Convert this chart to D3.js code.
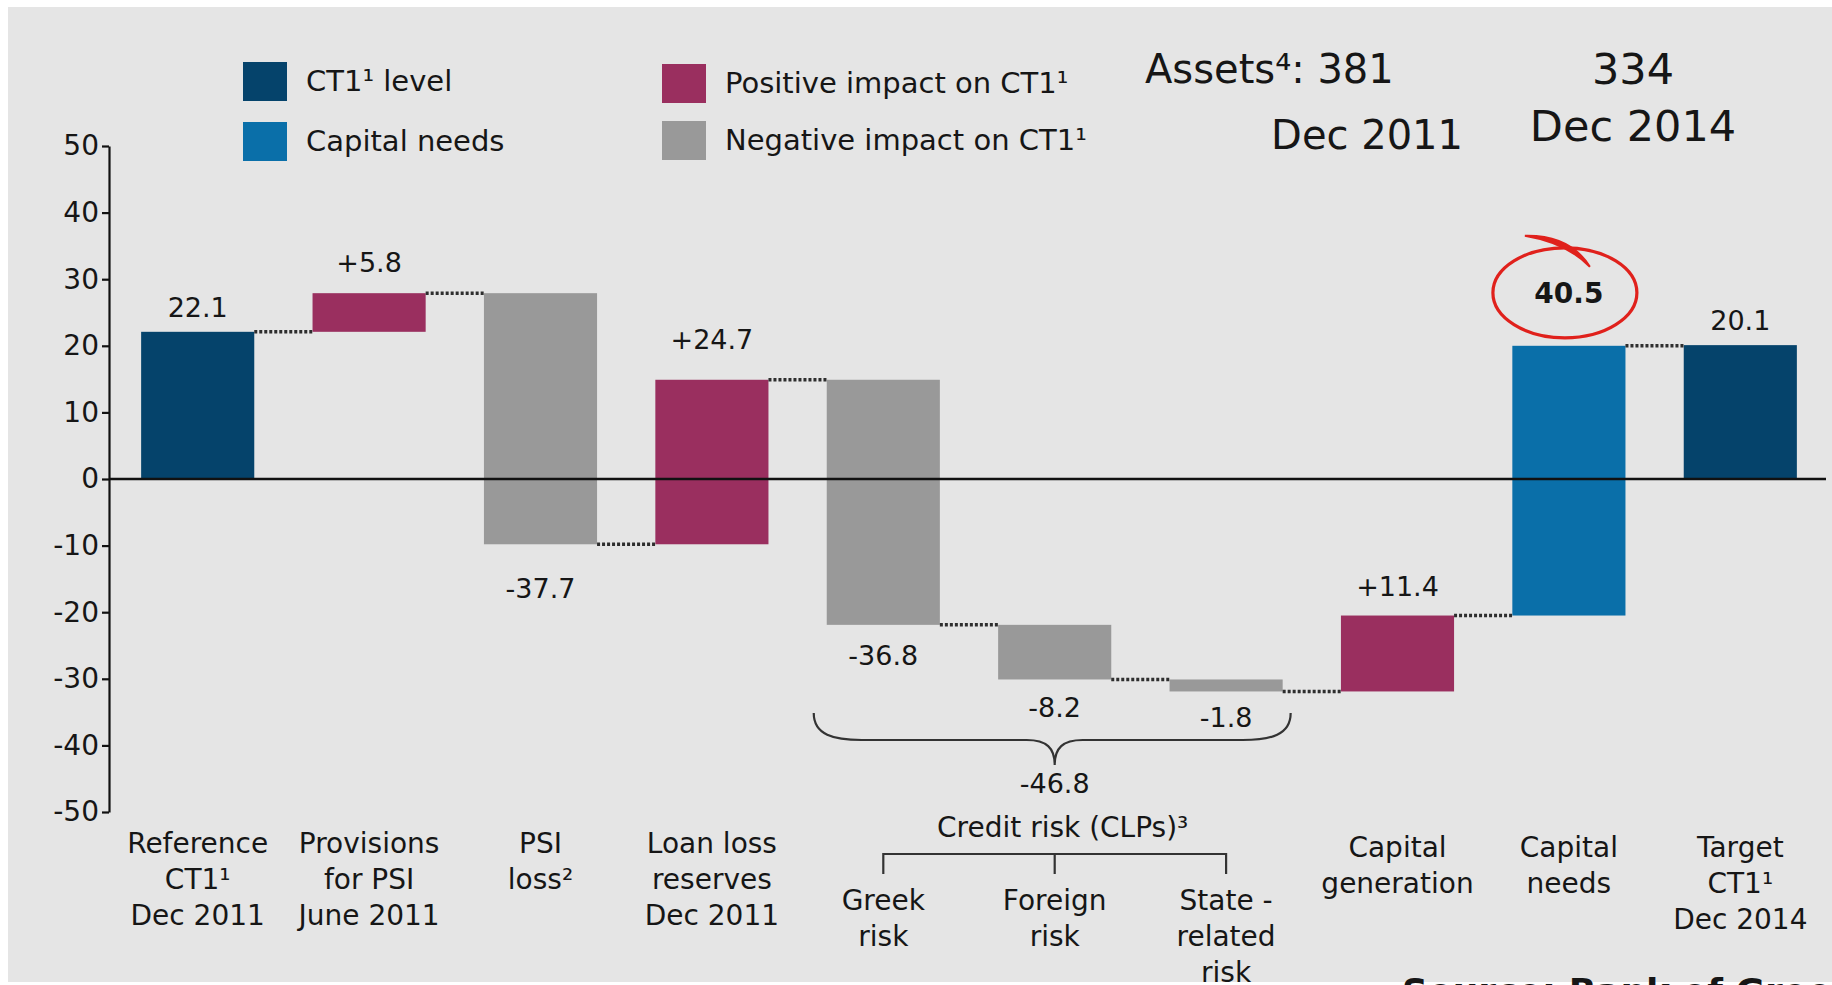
<!DOCTYPE html>
<html>
<head>
<meta charset="utf-8">
<script src="https://cdn.jsdelivr.net/npm/d3@7/dist/d3.min.js"></script>
<style>
  html, body { margin: 0; padding: 0; background: #ffffff; }
  svg { display: block; font-family: "DejaVu Sans", Verdana, sans-serif; }
  text { fill: #161616; }
</style>
</head>
<body>
<svg id="chart" width="1832" height="985"></svg>
<script>
// ---- data ---------------------------------------------------------------
const categories = ["ref", "prov", "psi", "llr", "greek", "foreign", "state", "capgen", "capneeds", "target"];
const categoryLabels = [
  ["Reference", "CT1¹", "Dec 2011"],
  ["Provisions", "for PSI", "June 2011"],
  ["PSI", "loss²"],
  ["Loan loss", "reserves", "Dec 2011"],
  ["Greek", "risk"],
  ["Foreign", "risk"],
  ["State -", "related", "risk"],
  ["Capital", "generation"],
  ["Capital", "needs"],
  ["Target", "CT1¹", "Dec 2014"]
];
const deltas = [22.1, 5.8, -37.7, 24.7, -36.8, -8.2, -1.8, 11.4, 40.5, 20.1];
const kinds = ["level", "pos", "neg", "pos", "neg", "neg", "neg", "pos", "needs", "level"];
const valueLabels = ["22.1", "+5.8", "-37.7", "+24.7", "-36.8", "-8.2", "-1.8", "+11.4", "40.5", "20.1"];
const yTicks = [-50, -40, -30, -20, -10, 0, 10, 20, 30, 40, 50];

const creditMembers = [4, 5, 6];
const creditTitle = "Credit risk (CLPs)³";
const creditTotal = "-46.8";

const legendItems = [
  { kind: "level", label: "CT1¹ level" },
  { kind: "needs", label: "Capital needs" },
  { kind: "pos", label: "Positive impact on CT1¹" },
  { kind: "neg", label: "Negative impact on CT1¹" }
];

const assetsLabel = "Assets⁴: 381";
const assetsDate = "Dec 2011";
const assetsTarget = "334";
const assetsTargetDate = "Dec 2014";
const sourceNote = "Source: Bank of Greece";

// ---- styling / layout ---------------------------------------------------
const colors = { level: "#05436b", needs: "#0a6fa9", pos: "#9a2f5f", neg: "#999999" };
const labelGap = [15, 21, 34, 31, 20, 18, 16, 20, 43, 15];

const svg = d3.select("#chart");

// panel background
svg.append("rect")
  .attr("x", 8).attr("y", 7)
  .attr("width", 1824).attr("height", 975)
  .attr("fill", "#e5e5e5");

const x = d3.scaleBand()
  .domain(categories)
  .range([112, 1826])
  .paddingInner(0.34)
  .paddingOuter(0.17);

const y = d3.scaleLinear().domain([-50, 50]).range([812, 146]);

// running totals for the waterfall
let running = 0;
const bars = deltas.map((d, i) => {
  let start, end;
  if (kinds[i] === "level") { start = 0; end = d; }
  else { start = running; end = running + d; }
  running = end;
  return { key: categories[i], i, start, end, delta: d, kind: kinds[i] };
});

// y axis
const yAxis = d3.axisLeft(y)
  .tickValues(yTicks)
  .tickFormat(d => String(d))
  .tickSize(7)
  .tickSizeOuter(0);

const gy = svg.append("g")
  .attr("transform", "translate(109,0)")
  .call(yAxis);
gy.select(".domain").attr("stroke", "#111").attr("stroke-width", 2.2);
gy.selectAll(".tick line").attr("stroke", "#111").attr("stroke-width", 2.2);
gy.selectAll(".tick text")
  .attr("x", -10)
  .attr("font-size", 28)
  .attr("font-family", "DejaVu Sans, Verdana, sans-serif")
  .attr("fill", "#161616");

// bars
svg.append("g").selectAll("rect")
  .data(bars)
  .join("rect")
  .attr("x", d => x(d.key))
  .attr("width", x.bandwidth())
  .attr("y", d => y(Math.max(d.start, d.end)))
  .attr("height", d => Math.abs(y(d.start) - y(d.end)))
  .attr("fill", d => colors[d.kind]);

// zero line
svg.append("line")
  .attr("x1", 109).attr("x2", 1826)
  .attr("y1", y(0)).attr("y2", y(0))
  .attr("stroke", "#111").attr("stroke-width", 2.5);

// dotted connectors between consecutive bars
const connectors = bars.slice(0, -1).map((b, i) => ({ from: b, to: bars[i + 1] }));
svg.append("g").selectAll("line")
  .data(connectors)
  .join("line")
  .attr("x1", d => x(d.from.key) + x.bandwidth())
  .attr("x2", d => x(d.to.key))
  .attr("y1", d => y(d.from.end))
  .attr("y2", d => y(d.from.end))
  .attr("stroke", "#2e2e2e")
  .attr("stroke-width", 3.5)
  .attr("stroke-dasharray", "3,2");

// value labels
const cx = key => x(key) + x.bandwidth() / 2;
svg.append("g").selectAll("text")
  .data(bars)
  .join("text")
  .attr("x", d => cx(d.key))
  .attr("y", d => {
    const up = d.kind === "level" || d.delta > 0;
    return up ? y(Math.max(d.start, d.end)) - labelGap[d.i]
              : y(Math.min(d.start, d.end)) + labelGap[d.i] + 20;
  })
  .attr("text-anchor", "middle")
  .attr("font-size", d => d.kind === "needs" ? 28 : 27)
  .attr("font-weight", d => d.kind === "needs" ? "bold" : "normal")
  .text((d, i) => valueLabels[i]);

// hand-drawn red ring around the capital needs figure
const needs = bars.find(b => b.kind === "needs");
const ringX = cx(needs.key) - 4;
const ringY = y(needs.end) - labelGap[needs.i] - 10;
svg.append("ellipse")
  .attr("cx", ringX).attr("cy", ringY)
  .attr("rx", 72).attr("ry", 45)
  .attr("fill", "none")
  .attr("stroke", "#e0211c")
  .attr("stroke-width", 3.2);
svg.append("path")
  .attr("d", `M${ringX - 40},${ringY - 57} Q${ringX + 5},${ringY - 58} ${ringX + 25},${ringY - 26}`
    + ` Q${ringX + 2},${ringY - 50} ${ringX - 40},${ringY - 57} Z`)
  .attr("fill", "#e0211c")
  .attr("stroke", "#e0211c")
  .attr("stroke-width", 2);

// category labels
const isMember = i => creditMembers.includes(i);
const catG = svg.append("g");
categoryLabels.forEach((lines, i) => {
  const top = isMember(i) ? 910 : (i >= 7 ? 857 : 853);
  const t = catG.append("text")
    .attr("x", cx(categories[i]))
    .attr("y", top)
    .attr("text-anchor", "middle")
    .attr("font-size", 28);
  lines.forEach((ln, k) => {
    t.append("tspan")
      .attr("x", cx(categories[i]))
      .attr("dy", k === 0 ? 0 : 36)
      .text(ln);
  });
});

// credit risk brace and bracket
const first = categories[creditMembers[0]];
const mid = categories[creditMembers[1]];
const last = categories[creditMembers[creditMembers.length - 1]];
const xl = x(first) - 13, xr = x(last) + x.bandwidth() + 8, tx = cx(mid);
const bTop = 713, bMid = 740, bTip = 765;
svg.append("path")
  .attr("d",
    `M${xl},${bTop} C${xl},${bMid - 5} ${xl + 20},${bMid} ${xl + 48},${bMid}` +
    ` L${tx - 28},${bMid} C${tx - 8},${bMid} ${tx},${bMid + 8} ${tx},${bTip}` +
    ` C${tx},${bMid + 8} ${tx + 8},${bMid} ${tx + 28},${bMid}` +
    ` L${xr - 48},${bMid} C${xr - 20},${bMid} ${xr},${bMid - 5} ${xr},${bTop}`)
  .attr("fill", "none")
  .attr("stroke", "#333")
  .attr("stroke-width", 2.2);

svg.append("text")
  .attr("x", tx).attr("y", 793)
  .attr("text-anchor", "middle")
  .attr("font-size", 27)
  .text(creditTotal);

svg.append("text")
  .attr("x", tx + 8).attr("y", 837)
  .attr("text-anchor", "middle")
  .attr("font-size", 28)
  .text(creditTitle);

const brY = 854, brDrop = 20;
svg.append("path")
  .attr("d",
    `M${cx(first)},${brY + brDrop} L${cx(first)},${brY} L${cx(last)},${brY} L${cx(last)},${brY + brDrop}` +
    ` M${cx(mid)},${brY} L${cx(mid)},${brY + brDrop}`)
  .attr("fill", "none")
  .attr("stroke", "#333")
  .attr("stroke-width", 2.2);

// legend
const legendPos = [[243, 62], [243, 122], [662, 64], [662, 121]];
const lg = svg.append("g");
legendItems.forEach((it, i) => {
  const [lx, ly] = legendPos[i];
  lg.append("rect")
    .attr("x", lx).attr("y", ly)
    .attr("width", 44).attr("height", 39)
    .attr("fill", colors[it.kind]);
  lg.append("text")
    .attr("x", lx + 63).attr("y", ly + 29)
    .attr("font-size", 29)
    .text(it.label);
});

// assets note
svg.append("text")
  .attr("x", 1145).attr("y", 83)
  .attr("font-size", 40)
  .text(assetsLabel);
svg.append("text")
  .attr("x", 1463).attr("y", 149)
  .attr("text-anchor", "end")
  .attr("font-size", 40)
  .text(assetsDate);
svg.append("text")
  .attr("x", 1633).attr("y", 84)
  .attr("text-anchor", "middle")
  .attr("font-size", 43)
  .text(assetsTarget);
svg.append("text")
  .attr("x", 1633).attr("y", 141)
  .attr("text-anchor", "middle")
  .attr("font-size", 43)
  .text(assetsTargetDate);

// source line, cut off at the bottom edge
svg.append("clipPath").attr("id", "panelClip")
  .append("rect").attr("x", 8).attr("y", 7).attr("width", 1824).attr("height", 978);
svg.append("text")
  .attr("clip-path", "url(#panelClip)")
  .attr("x", 1402).attr("y", 1004)
  .attr("font-size", 36)
  .attr("font-weight", "bold")
  .attr("fill", "#333")
  .text(sourceNote);
</script>
</body>
</html>
